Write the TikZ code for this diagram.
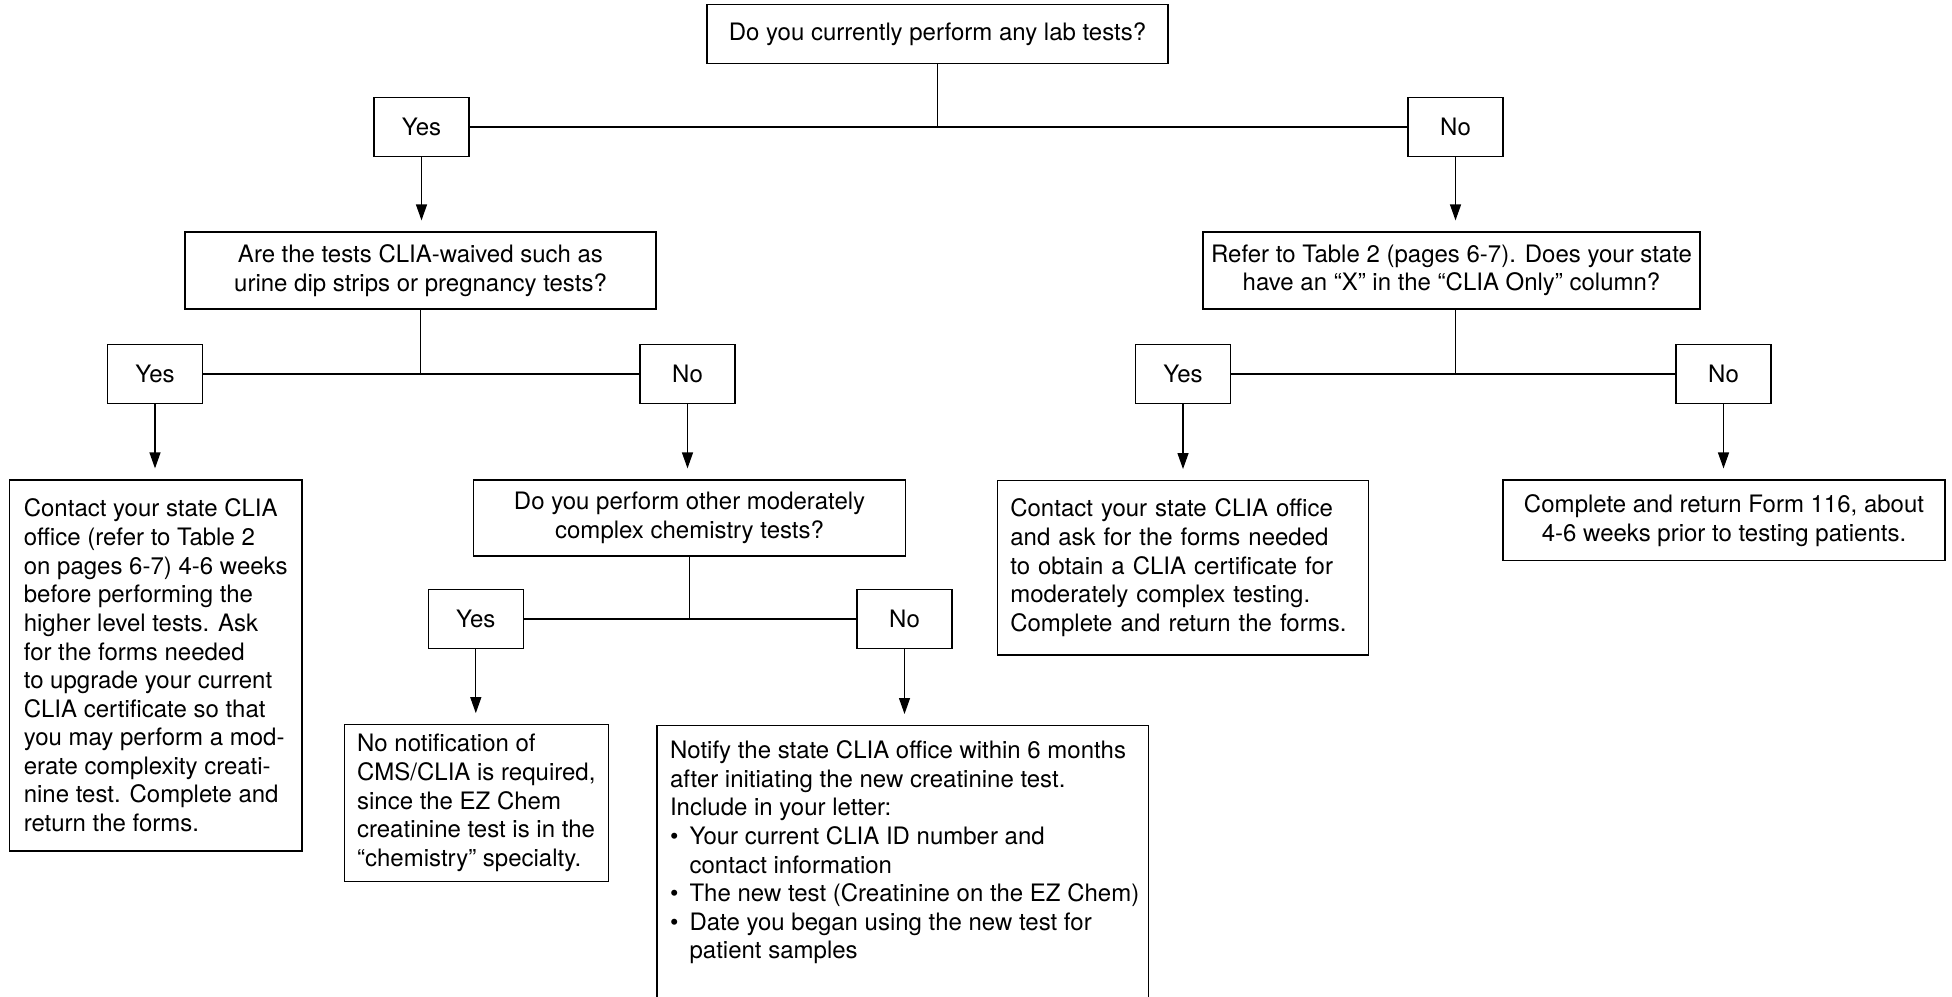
\documentclass[tikz,border=0pt]{standalone}
\usepackage{fontspec}
\setmainfont{TeX Gyre Heros}
\usetikzlibrary{arrows.meta}
\newcommand{\fcbul}{\makebox[9.75pt][l]{\textbullet}}
\begin{document}
\begin{tikzpicture}[x=0.5pt,y=-0.5pt,
  every node/.style={font=\fontsize{12}{14.3}\selectfont},
  box/.style={draw=black, line width=0.6pt, inner sep=0pt, align=center},
  ans/.style={box, minimum width=47.5pt, minimum height=29.5pt},
  txt/.style={draw=black, line width=0.6pt, inner xsep=6.5pt, inner ysep=0pt, align=left},
  link/.style={line width=0.6pt},
  arr/.style={line width=0.6pt, -{Triangle[length=8pt,width=5.5pt]}, shorten >=5.5pt}
]
\clip (0,0) rectangle (1952,996);
\fill[white] (0,0) rectangle (1952,996);

% level 1
\node[box, minimum width=230.5pt, minimum height=29.5pt] (q1) at (937.5,33.8) {Do you currently perform any lab tests?};
\node[ans] (y1) at (421.5,127) {Yes};
\node[ans] (n1) at (1455.5,127) {No};

% level 2
\node[box, minimum width=235.5pt, minimum height=38.5pt] (q2) at (420.5,270.5) {Are the tests CLIA-waived such as\\urine dip strips or pregnancy tests?};
\node[box, minimum width=248.5pt, minimum height=38.5pt] (q3) at (1451.5,270.5) {Refer to Table 2 (pages 6-7). Does your state\\have an “X” in the “CLIA Only” column?};
\node[ans] (y2) at (155,374) {Yes};
\node[ans] (n2) at (687.5,374) {No};
\node[ans] (y3) at (1183,374) {Yes};
\node[ans] (n3) at (1723.5,374) {No};

% level 3
\node[txt, minimum width=146.3pt, minimum height=185.5pt] (a1) at (155.7,665.5) {Contact your state CLIA\\office (refer to Table 2\\on pages 6-7) 4-6 weeks\\before performing the\\higher level tests. Ask\\for the forms needed\\to upgrade your current\\CLIA certificate so that\\you may perform a mod-\\erate complexity creati-\\nine test. Complete and\\return the forms.};
\node[box, minimum width=216pt, minimum height=38pt] (q4) at (689.5,518) {Do you perform other moderately\\complex chemistry tests?};
\node[txt, text width=172.5pt, minimum height=87.15pt] (a3) at (1182.8,567.8) {Contact your state CLIA office\\and ask for the forms needed\\to obtain a CLIA certificate for\\moderately complex testing.\\Complete and return the forms.};
\node[box, minimum width=221pt, minimum height=40.35pt] (a4) at (1724,520.4) {Complete and return Form 116, about\\4-6 weeks prior to testing patients.};

% level 4
\node[ans] (y4) at (475.8,619) {Yes};
\node[ans] (n4) at (904.5,619) {No};
\node[txt, minimum width=131.3pt, minimum height=78.25pt] (a5) at (476.3,803) {No notification of\\CMS/CLIA is required,\\since the EZ Chem\\creatinine test is in the\\“chemistry” specialty.};
\node[draw=black, line width=0.6pt, inner sep=6.5pt, anchor=north] (a6) at (902.7,725) {\parbox[c][140pt][t]{232.65pt}{\raggedright\strut\mbox{Notify the state CLIA office within 6 months}\\after initiating the new creatinine test.\\Include in your letter:\\\fcbul Your current CLIA ID number and\\\hspace*{9.75pt}contact information\\\fcbul\mbox{The new test (Creatinine on the EZ Chem)}\\\fcbul Date you began using the new test for\\\hspace*{9.75pt}patient samples}};

% connectors
\draw[link] (q1.south) -- (q1.south |- y1.east);
\draw[link] (y1.east) -- (n1.west);
\draw[arr] (y1.south) -- (y1.south |- q2.north);
\draw[arr] (n1.south) -- (n1.south |- q3.north);

\draw[link] (q2.south) -- (q2.south |- y2.east);
\draw[link] (y2.east) -- (n2.west);
\draw[link] ([xshift=2pt]q3.south) -- ([xshift=2pt]q3.south |- y3.east);
\draw[link] (y3.east) -- (n3.west);

\draw[arr] (y2.south) -- (y2.south |- a1.north);
\draw[arr] (n2.south) -- (n2.south |- q4.north);
\draw[arr] (y3.south) -- (y3.south |- a3.north);
\draw[arr] (n3.south) -- (n3.south |- a4.north);

\draw[link] (q4.south) -- (q4.south |- y4.east);
\draw[link] (y4.east) -- (n4.west);
\draw[arr] (y4.south) -- (y4.south |- a5.north);
\draw[arr] (n4.south) -- (n4.south |- a6.north);
\end{tikzpicture}
\end{document}
